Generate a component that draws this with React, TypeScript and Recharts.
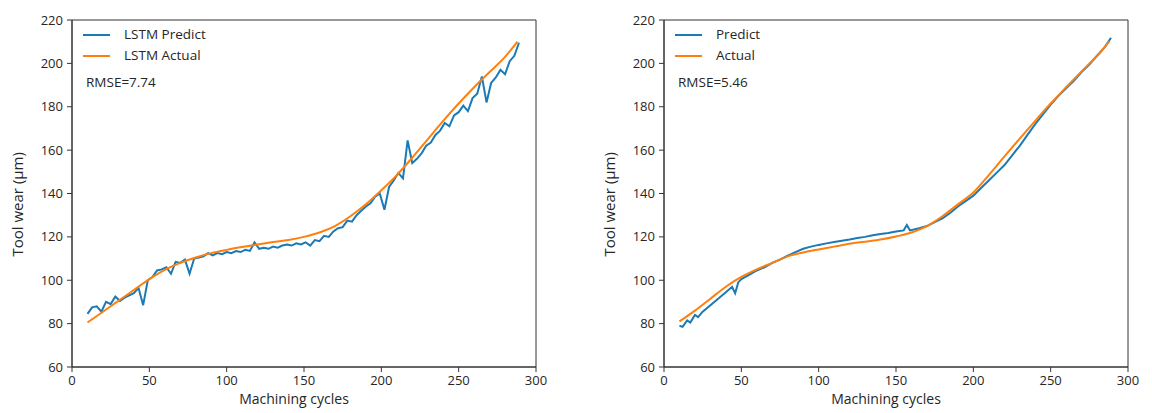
import React from 'react';
import { LineChart, Line, XAxis, YAxis, Legend, ReferenceArea } from 'recharts';

// ── data ──────────────────────────────────────────────────────────────────────

const LSTM_PRED_X = [
  10, 13, 16, 19, 22, 25, 28, 31, 34, 37, 40, 43, 46, 49, 52, 55, 58, 61, 64, 67,
  70, 73, 76, 79, 82, 85, 88, 91, 94, 97, 100, 103, 106, 109, 112, 115, 118, 121, 124, 127,
  130, 133, 136, 139, 142, 145, 148, 151, 154, 157, 160, 163, 166, 169, 172, 175, 178, 181, 184, 187,
  190, 193, 196, 199, 202, 205, 208, 211, 214, 217, 220, 223, 226, 229, 232, 235, 238, 241, 244, 247,
  250, 253, 256, 259, 262, 265, 268, 271, 274, 277, 280, 283, 286, 289,
];
const LSTM_PRED_Y = [
  84.5, 87.5, 88, 85.5, 90, 89, 92.5, 90.5, 92, 93, 94, 96.5, 88.5, 100, 101.5, 104.5, 105, 106, 103, 108.5,
  108, 109.5, 103, 110, 110.5, 111, 112.5, 111.5, 112.5, 112, 113, 112.5, 113.5, 113, 114, 113.5, 117.5, 114.5, 115, 114.5,
  115.5, 115, 116, 116.5, 116, 117, 116.5, 117.5, 116, 118.5, 118, 120.5, 120, 122.5, 124, 124.5, 127.5, 127, 130, 132,
  134, 135.5, 138.5, 140, 132.5, 143, 146, 149.5, 147, 164.5, 154, 156, 158.5, 162, 163.5, 167, 169, 172.5, 171, 176,
  177.5, 180.5, 178, 184, 186, 194, 182, 191, 193.5, 197, 195, 201, 203.5, 209.5,
];
const LSTM_ACT_X = [
  10, 20, 30, 40, 50, 60, 70, 80, 90, 100, 110, 120, 130, 140, 150,
  160, 170, 180, 190, 200, 210, 220, 230, 240, 250, 260, 270, 280, 288,
];
const LSTM_ACT_Y = [
  80.5, 85.5, 90.5, 95.5, 100.5, 104.8, 108, 110.5, 112.5, 114, 115.3, 116.5, 117.6, 118.6, 120,
  122, 125, 129.5, 135, 141.5, 148.5, 156.5, 165, 173.5, 181.5, 189, 196, 203, 210,
];

const PRED_X = [
  10, 12, 15, 17, 20, 22, 25, 30, 35, 40, 44, 46, 48, 50, 55, 60, 65, 70, 75, 80,
  85, 90, 95, 100, 105, 110, 115, 120, 125, 130, 135, 140, 145, 150, 155, 157, 159, 165, 170, 175,
  180, 185, 190, 195, 200, 205, 210, 215, 220, 225, 230, 235, 240, 245, 250, 255, 260, 265, 270, 275,
  280, 285, 289,
];
const PRED_Y = [
  79, 78.5, 81.5, 80.5, 84, 83, 85.5, 88.5, 91.5, 94.5, 97, 94, 99, 100.5, 102.5, 104.5, 106, 108, 109.5, 111.3,
  113, 114.5, 115.5, 116.3, 117, 117.6, 118.2, 118.8, 119.5, 120, 120.7, 121.3, 121.8, 122.5, 123, 125.5, 123, 124, 125, 126.8,
  128.5, 131, 134, 136.5, 139, 142.5, 146, 149.5, 153, 157.5, 162, 167, 172, 176.5, 181, 185, 188.5, 192, 196, 199.5,
  203.5, 207.5, 211.8,
];
const ACT_X = [
  10, 20, 30, 40, 50, 60, 70, 80, 90, 100, 110, 120, 130, 140, 150,
  160, 170, 180, 190, 200, 210, 220, 230, 240, 250, 260, 270, 280, 288,
];
const ACT_Y = [
  81, 86, 91.5, 97, 101.5, 105, 108, 111, 112.8, 114.2, 115.5, 116.8, 117.8, 118.8, 120.2,
  122, 125, 129.5, 135, 140.5, 148.5, 157, 165.3, 173.5, 181.5, 189, 196.3, 203.5, 210.3,
];

const X_TICKS = [0, 50, 100, 150, 200, 250, 300];
const Y_TICKS = [60, 80, 100, 120, 140, 160, 180, 200, 220];

const BLUE = '#1a7ab5';
const ORANGE = '#ff7f0e';
const INK = '#262626';
const FONT = '"Open Sans", "Noto Sans", sans-serif';

const TICK_STYLE = { fill: INK, fontSize: 13, fontFamily: FONT };

const zip = (xs: number[], ys: number[]) => xs.map((x, i) => ({ x, y: ys[i] }));

// ── one panel ─────────────────────────────────────────────────────────────────

interface PanelProps {
  left: number;
  predName: string;
  actName: string;
  pred: { x: number; y: number }[];
  act: { x: number; y: number }[];
  rmse: string;
}

function Panel({ left, predName, actName, pred, act, rmse }: PanelProps) {
  // legend in series order (Recharts would otherwise sort it by name)
  const items = [
    { name: predName, color: BLUE },
    { name: actName, color: ORANGE },
  ];
  const renderLegend = () => (
    <div style={{ fontFamily: FONT, fontSize: 13.5, color: INK, lineHeight: '21px' }}>
      {items.map(p => (
        <div key={p.name} style={{ display: 'flex', alignItems: 'center' }}>
          <span style={{ display: 'inline-block', width: 27, height: 0, borderTop: `2px solid ${p.color}`, marginRight: 14 }} />
          <span>{p.name}</span>
        </div>
      ))}
      <div style={{ marginTop: 6, marginLeft: 3 }}>RMSE={rmse}</div>
    </div>
  );

  return (
    <div style={{ position: 'absolute', left, top: 0 }}>
      <LineChart width={560} height={413} margin={{ top: 20, right: 24, bottom: 16, left: 22 }}>
        <XAxis
          dataKey="x" type="number" domain={[0, 300]} ticks={X_TICKS}
          allowDataOverflow height={30}
          tick={TICK_STYLE} tickSize={5} tickMargin={4}
          stroke="#333" tickLine={{ stroke: '#333' }}
          label={{ value: 'Machining cycles', position: 'insideBottom', offset: -7, dx: -10, fill: INK, fontSize: 14, fontFamily: FONT }}
        />
        <YAxis
          type="number" domain={[60, 220]} ticks={Y_TICKS} allowDataOverflow width={50}
          tick={TICK_STYLE} tickSize={5} tickMargin={4}
          stroke="#333" tickLine={{ stroke: '#333' }}
          label={{ value: 'Tool wear (µm)', angle: -90, position: 'insideLeft', dx: -9, dy: 63, fill: INK, fontSize: 15, fontFamily: FONT }}
        />
        <ReferenceArea x1={0} x2={300} y1={60} y2={220} fill="none" stroke="#333" strokeWidth={1} ifOverflow="visible" />
        <Legend
          layout="vertical" align="center" verticalAlign="middle"
          wrapperStyle={{ position: 'absolute', left: 83, top: 24, width: 200 }}
          content={renderLegend}
        />
        <Line data={pred} dataKey="y" name={predName} stroke={BLUE} strokeWidth={2} dot={false} isAnimationActive={false} type="linear" />
        <Line data={act} dataKey="y" name={actName} stroke={ORANGE} strokeWidth={2} dot={false} isAnimationActive={false} type="monotone" />
      </LineChart>
    </div>
  );
}

export default function App() {
  return (
    <>
      <style>{'body{margin:0;background:#fff}'}</style>
      <div style={{ position: 'relative', width: 1152, height: 413, background: '#fff' }}>
        <Panel left={0} predName="LSTM Predict" actName="LSTM Actual"
          pred={zip(LSTM_PRED_X, LSTM_PRED_Y)} act={zip(LSTM_ACT_X, LSTM_ACT_Y)} rmse="7.74" />
        <Panel left={592} predName="Predict" actName="Actual"
          pred={zip(PRED_X, PRED_Y)} act={zip(ACT_X, ACT_Y)} rmse="5.46" />
      </div>
    </>
  );
}
